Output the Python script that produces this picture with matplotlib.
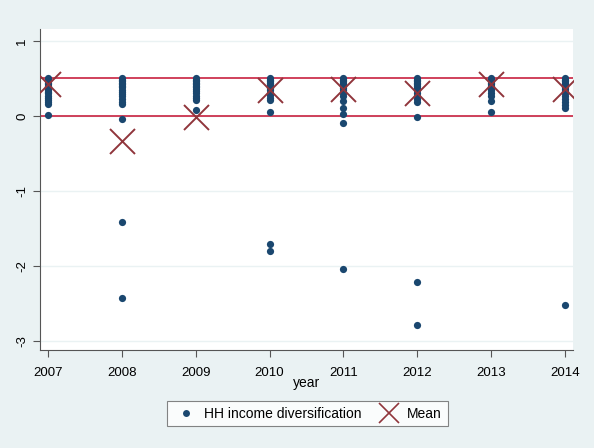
import numpy as np
import matplotlib
matplotlib.use('Agg')
import matplotlib.pyplot as plt
from matplotlib.lines import Line2D

plt.rcParams['font.family'] = ['Liberation Sans', 'DejaVu Sans']

# values
years = [2007, 2008, 2009, 2010, 2011, 2012, 2013, 2014]
hh_div = {
    2007: [0.5, 0.48, 0.46, 0.44, 0.42, 0.4, 0.38, 0.36, 0.34, 0.32, 0.3, 0.27, 0.24, 0.21, 0.18, 0.16, 0.01],
    2008: [0.5, 0.48, 0.46, 0.44, 0.42, 0.4, 0.38, 0.35, 0.32, 0.29, 0.26, 0.22, 0.19, 0.16, -0.04, -1.41, -2.43],
    2009: [0.5, 0.48, 0.46, 0.44, 0.42, 0.4, 0.38, 0.36, 0.33, 0.3, 0.27, 0.24, 0.21, 0.08],
    2010: [0.5, 0.48, 0.46, 0.44, 0.42, 0.4, 0.37, 0.34, 0.31, 0.28, 0.24, 0.21, 0.05, -1.71, -1.8],
    2011: [0.5, 0.48, 0.46, 0.44, 0.42, 0.4, 0.37, 0.34, 0.3, 0.26, 0.2, 0.1, 0.02, -0.1, -2.04],
    2012: [0.5, 0.48, 0.46, 0.44, 0.42, 0.4, 0.37, 0.34, 0.3, 0.26, 0.22, 0.18, -0.01, -2.21, -2.79],
    2013: [0.5, 0.48, 0.46, 0.44, 0.42, 0.4, 0.37, 0.34, 0.3, 0.26, 0.2, 0.05],
    2014: [0.5, 0.48, 0.46, 0.44, 0.42, 0.4, 0.38, 0.36, 0.33, 0.3, 0.27, 0.23, 0.19, 0.15, 0.1, -2.52],
}
means = [0.43, -0.33, -0.01, 0.35, 0.36, 0.31, 0.43, 0.36]
ref_lines = [0, 0.5]
yticks = [-3, -2, -1, 0, 1]

bg = '#eaf2f3'
dot_c = '#1a476f'
x_c = '#90353b'
fig = plt.figure(figsize=(5.94, 4.48), dpi=100, facecolor=bg)
ax = fig.add_axes([0.0673, 0.2188, 0.8973, 0.7165])
ax.set_facecolor('white')

for y in yticks:
    ax.axhline(y, color=bg, linewidth=1.0, zorder=0)
for r in ref_lines:
    ax.axhline(r, color='#c8213f', linewidth=1.2, zorder=1)

xs, ys = [], []
for yr in years:
    xs += [yr] * len(hh_div[yr])
    ys += hh_div[yr]
ax.plot(xs, ys, 'o', color=dot_c, markersize=5.2, markeredgewidth=0, zorder=3)
ax.plot(years, means, 'x', color=x_c, markersize=18, markeredgewidth=1.4, zorder=4)

ax.set_xlim(2006.89, 2014.11)
ax.set_ylim(-3.12, 1.16)
ax.set_xticks(years)
ax.set_yticks(yticks)
ax.set_yticklabels([str(t) for t in yticks], rotation=90, va='center')
ax.tick_params(axis='both', colors='#555555', labelcolor='black', labelsize=9.5,
               length=5, width=0.8)
ax.tick_params(axis='x', pad=7)
for s in ['top', 'right']:
    ax.spines[s].set_visible(False)
for s in ['left', 'bottom']:
    ax.spines[s].set_color('#555555')
    ax.spines[s].set_linewidth(0.8)
ax.set_xlabel('year', fontsize=10, labelpad=-2)

handles = [Line2D([], [], ls='none', marker='o', color=dot_c, markersize=5, markeredgewidth=0),
           Line2D([], [], ls='none', marker='x', color=x_c, markersize=15, markeredgewidth=1.2)]
leg = fig.legend(handles, ['HH income diversification', 'Mean'], loc='center',
                 bbox_to_anchor=(0.517, 0.077), ncol=2, frameon=True, fancybox=False,
                 fontsize=10, handletextpad=0.3, columnspacing=1.0, borderpad=0.4)
leg.get_frame().set_edgecolor('#666666')
leg.get_frame().set_linewidth(0.8)

fig.savefig('out.png', dpi=100, facecolor=bg)
